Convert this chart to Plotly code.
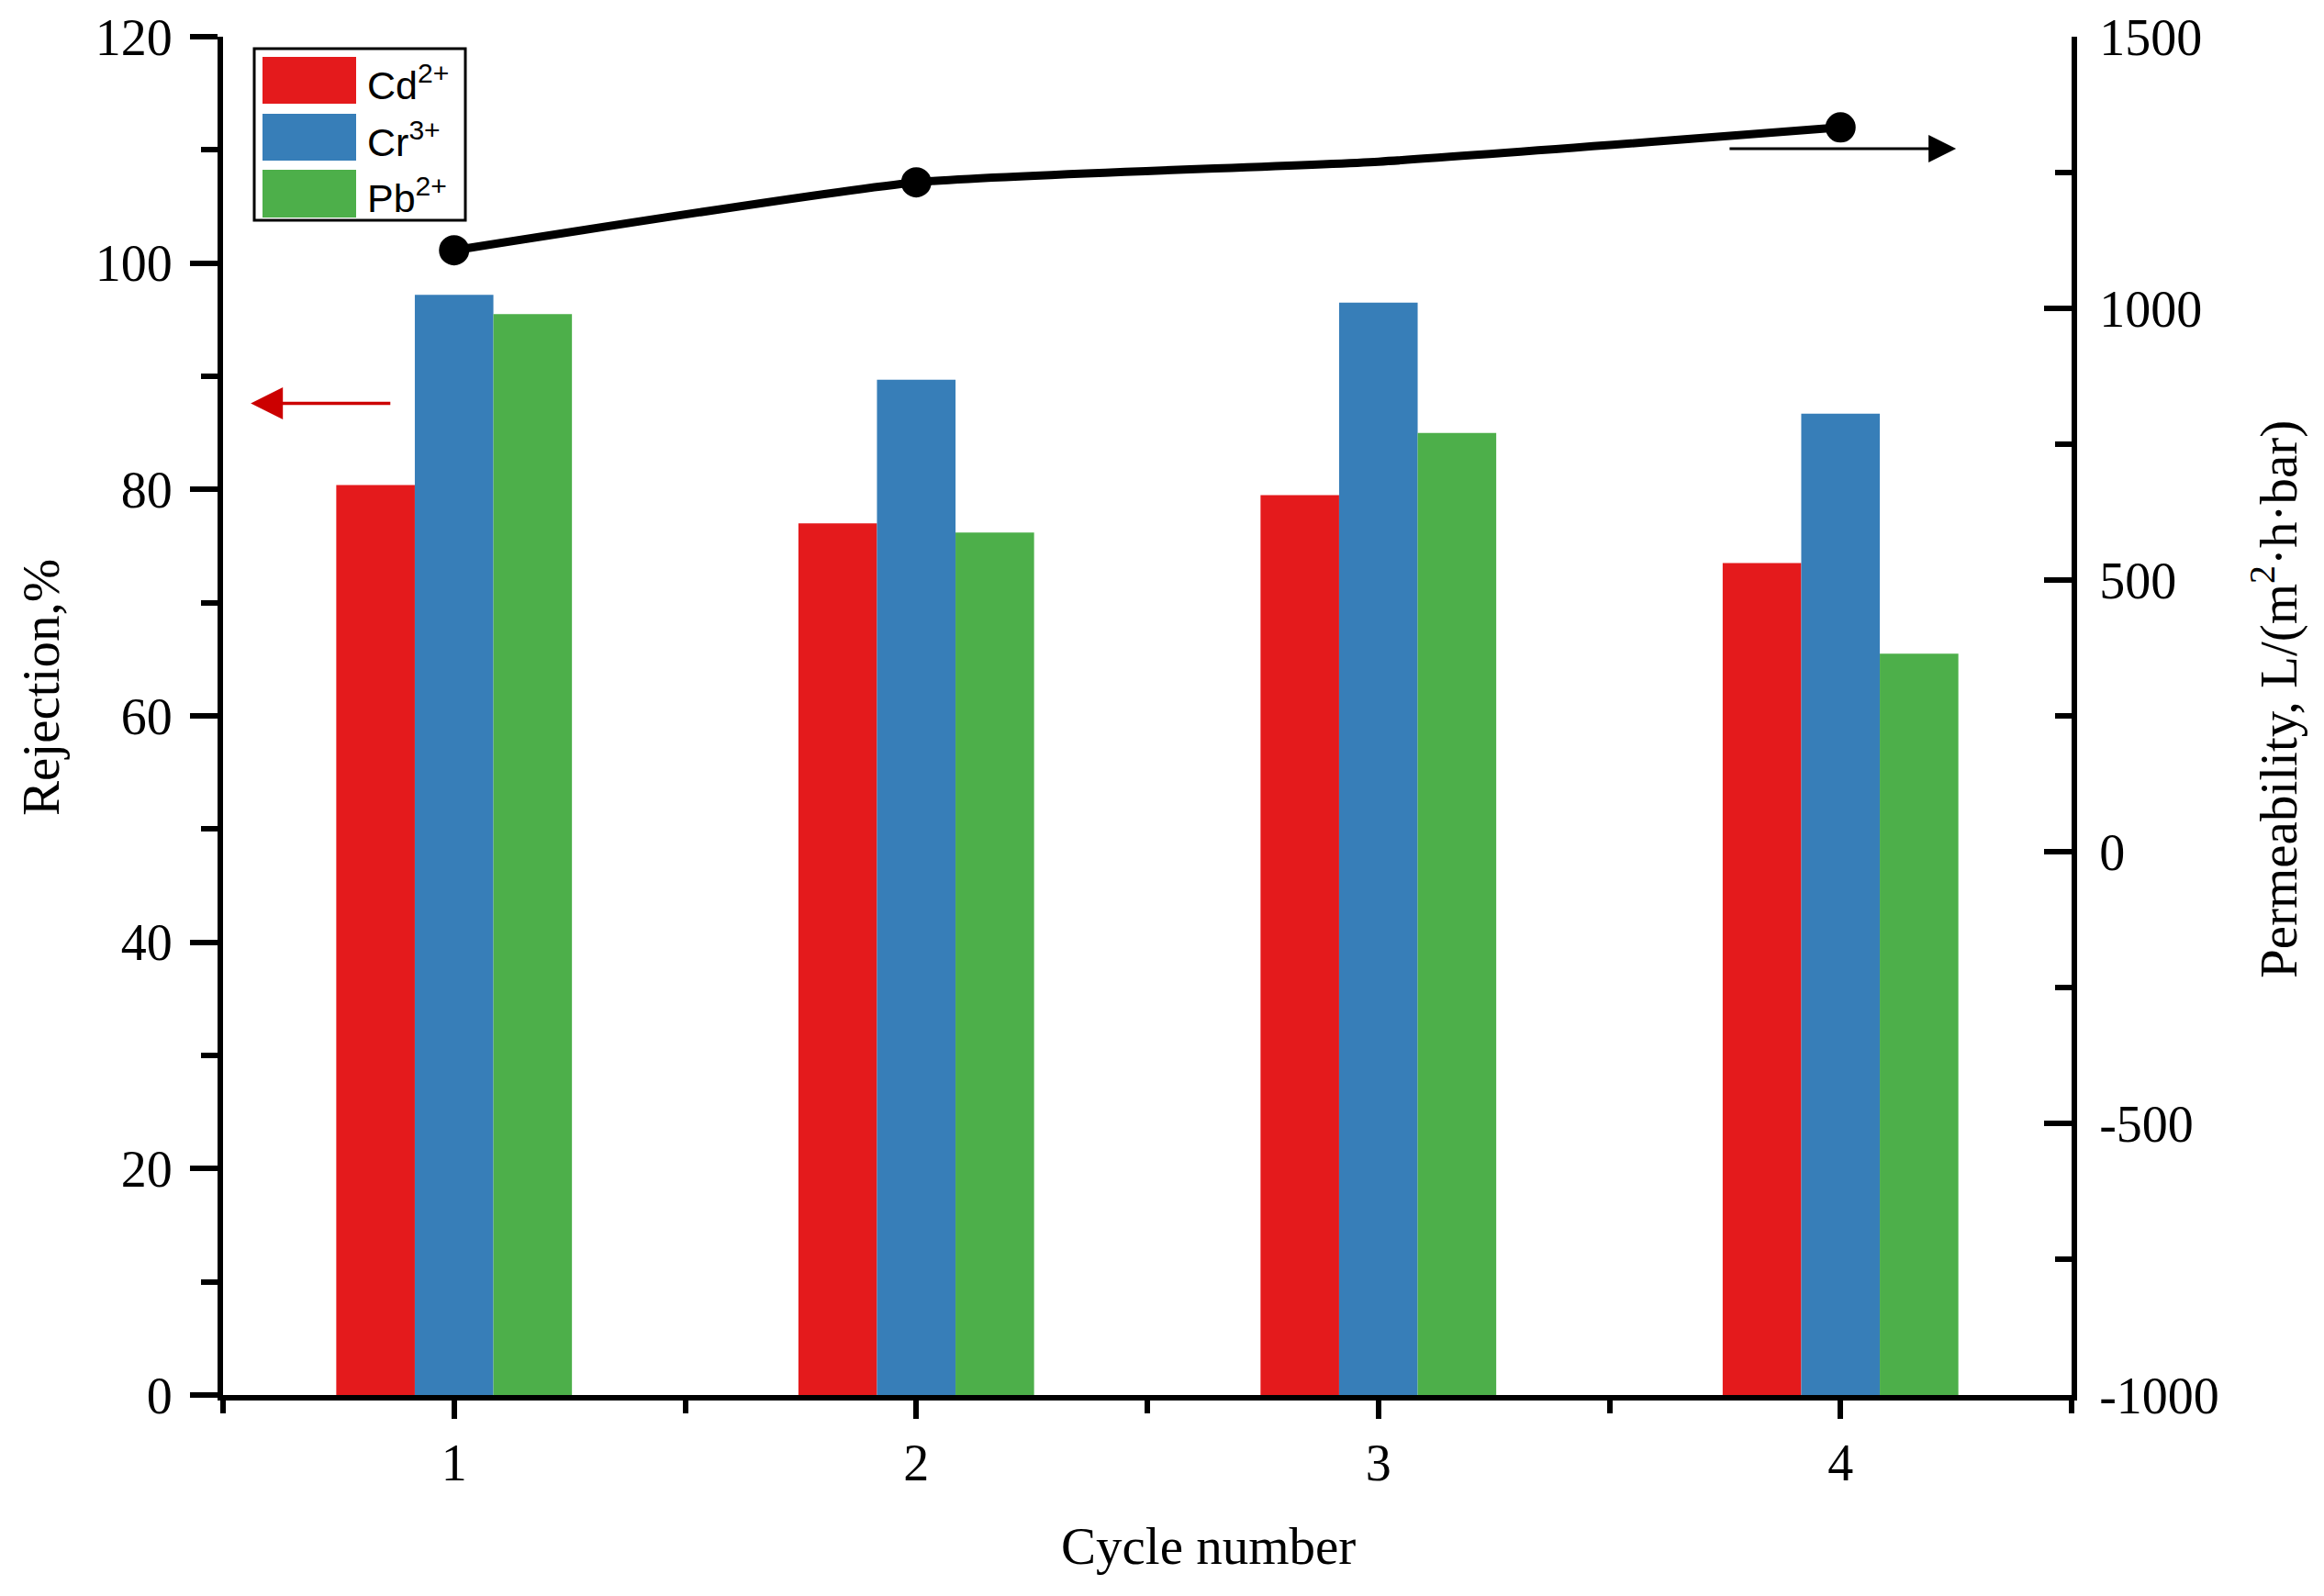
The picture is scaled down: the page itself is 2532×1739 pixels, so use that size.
import plotly.graph_objects as go

# ---- data ----
cycles = [1, 2, 3, 4]
ion_names = ["Cd<sup>2+</sup>", "Cr<sup>3+</sup>", "Pb<sup>2+</sup>"]
cd_rejection = [80.4, 77.0, 79.5, 73.5]
cr_rejection = [97.2, 89.7, 96.5, 86.7]
pb_rejection = [95.5, 76.2, 85.0, 65.5]
permeability = [1107, 1232, 1270, 1333]
perm_marker_sizes = [31, 31, 0, 31]
perm_ticks = [-1000, -500, 0, 500, 1000, 1500]
perm_ticktext = ["-1000", "-500", "0", "500", "1000", "1500"]
bar_colors = ["#E41A1C", "#377EB8", "#4DAF4A"]

OFF = 8                       # page body margin
W, H = 2532 - 2 * OFF, 1739 - 2 * OFF
L, R, T, B = 243, 2257, 40, 1520  # plot-area pixel bounds on the page

def px(xp):
    return (xp - L) / (R - L)

def py(yp):
    return (B - yp) / (B - T)

fig = go.Figure()
for name, vals, col in zip(ion_names, [cd_rejection, cr_rejection, pb_rejection], bar_colors):
    fig.add_trace(go.Bar(x=cycles, y=vals, name=name, marker=dict(color=col, line=dict(width=0)),
                         showlegend=False))

fig.add_trace(go.Scatter(x=cycles, y=permeability, yaxis="y2", mode="lines+markers",
                         line=dict(color="black", width=9, shape="spline", smoothing=0.5),
                         marker=dict(color="#000000", size=perm_marker_sizes, opacity=1,
                                     line=dict(color="#000000", width=2)),
                         showlegend=False, name="Permeability"))

serif = "Liberation Serif, Times New Roman, serif"
tickfont = dict(family=serif, size=56, color="black")
titlefont = dict(family=serif, size=57, color="black")

fig.update_layout(
    template="none",
    width=W, height=H,
    margin=dict(l=L - OFF, r=(W + OFF) - R, t=T - OFF, b=(H + OFF) - B, pad=0, autoexpand=False),
    paper_bgcolor="white", plot_bgcolor="white",
    barmode="group", bargap=0.49, bargroupgap=0,
    xaxis=dict(range=[0.5, 4.5], tickvals=cycles, ticktext=[str(c) for c in cycles], automargin=False,
               showline=True, linecolor="black", linewidth=6,
               ticks="outside", ticklen=20, tickwidth=6, tickcolor="black",
               minor=dict(dtick=0.5, tick0=0.5, ticks="outside", ticklen=14, tickwidth=6, tickcolor="black"),
               showgrid=False, zeroline=False, tickfont=tickfont, ticklabelstandoff=0),
    yaxis=dict(range=[0, 120], dtick=20, automargin=False,
               showline=True, linecolor="black", linewidth=6,
               ticks="outside", ticklen=30, tickwidth=6, tickcolor="black",
               minor=dict(dtick=10, ticks="outside", ticklen=18, tickwidth=6, tickcolor="black"),
               showgrid=False, zeroline=False, tickfont=tickfont, ticklabelstandoff=8),
    yaxis2=dict(range=[-1000, 1500], tickvals=perm_ticks, ticktext=perm_ticktext, automargin=False,
                overlaying="y", side="right",
                showline=True, linecolor="black", linewidth=6,
                ticks="inside", ticklen=30, tickwidth=6, tickcolor="black",
                minor=dict(dtick=250, ticks="inside", ticklen=18, tickwidth=6, tickcolor="black"),
                showgrid=False, zeroline=False, tickfont=tickfont, ticklabelstandoff=13),
)

# ---- custom legend ----
shapes = [dict(type="rect", xref="paper", yref="paper", x0=px(277), x1=px(507), y0=py(240), y1=py(53),
               line=dict(color="black", width=3), fillcolor="white", layer="above")]
swatch_rows = [(62, 113), (124, 175), (185, 237)]
for (top, bot), col in zip(swatch_rows, bar_colors):
    shapes.append(dict(type="rect", xref="paper", yref="paper", x0=px(286), x1=px(388),
                       y0=py(bot), y1=py(top), line=dict(width=0), fillcolor=col, layer="above"))
annotations = []
for (top, bot), name in zip(swatch_rows, ion_names):
    annotations.append(dict(xref="paper", yref="paper", x=px(398), y=py((top + bot) / 2 + 2),
                            text=name, showarrow=False, xanchor="left", yanchor="middle",
                            font=dict(family="Liberation Sans, Arial, sans-serif", size=43, color="black")))

# ---- axis titles ----
annotations.append(dict(xref="paper", yref="paper", x=px(1316), y=py(1684), text="Cycle number",
                        showarrow=False, xanchor="center", yanchor="middle", font=titlefont))
annotations.append(dict(xref="paper", yref="paper", x=px(44), y=py(749), text="Rejection,%",
                        textangle=-90, showarrow=False, xanchor="center", yanchor="middle", font=titlefont))
annotations.append(dict(xref="paper", yref="paper", x=px(2478), y=py(762),
                        text="Permeability, L/(m<sup>2</sup>·h·bar)",
                        textangle=-90, showarrow=False, xanchor="center", yanchor="middle", font=titlefont))

# ---- direction arrows ----
annotations.append(dict(x=0.56, y=87.6, ax=0.865, ay=87.6, xref="x", yref="y", axref="x", ayref="y",
                        text="", showarrow=True, arrowhead=2, arrowsize=2, arrowwidth=3.5,
                        arrowcolor="#CC0000"))
annotations.append(dict(x=4.25, y=110.1, ax=3.757, ay=110.1, xref="x", yref="y", axref="x", ayref="y",
                        text="", showarrow=True, arrowhead=2, arrowsize=2, arrowwidth=3,
                        arrowcolor="black"))

fig.update_layout(shapes=shapes, annotations=annotations)

fig.write_html("out.html")
